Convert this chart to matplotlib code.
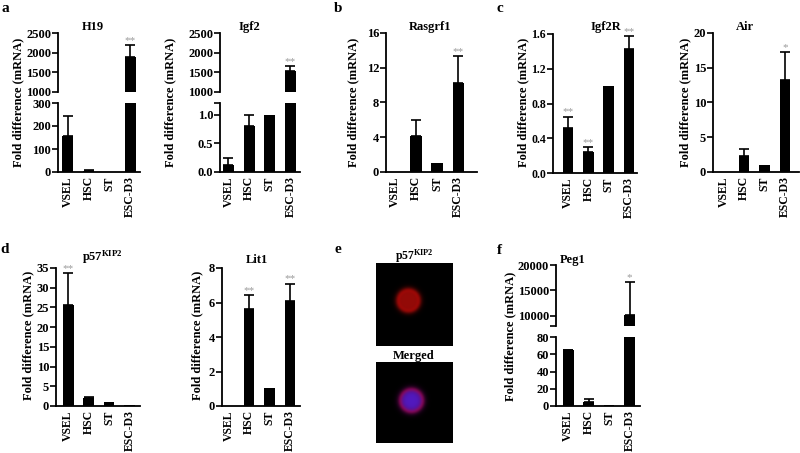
import numpy as np
import matplotlib
matplotlib.use('Agg')
import matplotlib.pyplot as plt
from matplotlib import font_manager as fm

_names = {f.name for f in fm.fontManager.ttflist}
SERIF = next((n for n in ['Liberation Serif', 'Times New Roman', 'Nimbus Roman',
                          'DejaVu Serif'] if n in _names), 'DejaVu Serif')

plt.rcParams['font.family'] = 'serif'
plt.rcParams['font.serif'] = [SERIF, 'DejaVu Serif']
plt.rcParams['font.weight'] = 'bold'
plt.rcParams['mathtext.fontset'] = 'custom'
plt.rcParams['mathtext.rm'] = SERIF + ':bold'
plt.rcParams['mathtext.it'] = SERIF + ':bold'
plt.rcParams['mathtext.bf'] = SERIF + ':bold'

# ---------------- data ----------------
groups = ['VSEL', 'HSC', 'ST', 'ESC-D3']

h19_vals = [155, 6, 1, 1900]
h19_err = [90, 2, 0, 300]
h19_sig = ['', '', '', '**']

igf2_vals = [0.13, 0.8, 1.0, 1540]
igf2_err = [0.12, 0.2, 0, 120]
igf2_sig = ['', '', '', '**']

rasgrf1_vals = [0, 4.1, 1.0, 10.2]
rasgrf1_err = [0, 1.9, 0, 3.1]
rasgrf1_sig = ['', '', '', '**']

igf2r_vals = [0.52, 0.24, 1.0, 1.43]
igf2r_err = [0.13, 0.06, 0, 0.15]
igf2r_sig = ['**', '**', '', '**']

air_vals = [0, 2.35, 1.0, 13.3]
air_err = [0, 1.0, 0, 4.0]
air_sig = ['', '', '', '*']

p57_vals = [25.5, 2.0, 1.0, 0.3]
p57_err = [8.3, 0.4, 0, 0]
p57_sig = ['**', '', '', '']

lit1_vals = [0, 5.6, 1.05, 6.1]
lit1_err = [0, 0.85, 0, 1.0]
lit1_sig = ['', '**', '', '**']

peg1_vals = [64.5, 4.6, 0.8, 10150]
peg1_err = [1.0, 3.2, 0, 6550]
peg1_sig = ['', '', '', '*']

W, H = 800, 453
fig = plt.figure(figsize=(W / 100, H / 100), dpi=100)
fig.patch.set_facecolor('white')

STAR_COLOR = '#9a9a9a'


def add_ax(l, r, t, b):
    return fig.add_axes([l / W, 1 - b / H, (r - l) / W, (b - t) / H])


def style(ax, xlim, ylim, yticks, ylabels=None, bottom=True, minor=None):
    ax.set_xlim(*xlim)
    ax.set_ylim(*ylim)
    for s in ['top', 'right']:
        ax.spines[s].set_visible(False)
    ax.spines['left'].set_linewidth(1.3)
    if bottom:
        ax.spines['bottom'].set_linewidth(1.3)
    else:
        ax.spines['bottom'].set_visible(False)
    ax.set_yticks(yticks)
    if ylabels is not None:
        ax.set_yticklabels(ylabels)
    if minor is not None:
        ax.set_yticks(minor, minor=True)
        ax.tick_params(axis='y', which='minor', length=4, width=1.2)
    ax.tick_params(axis='y', direction='out', length=4, width=1.2,
                   labelsize=9, pad=1)
    ax.tick_params(axis='x', length=0, labelsize=8.5, pad=3)
    if bottom:
        ax.set_xticks(range(len(groups)))
        ax.set_xticklabels(groups, rotation=90)
    else:
        ax.set_xticks([])
    ax.patch.set_alpha(0)


def draw(ax, vals, errs):
    x = np.arange(len(vals))
    ax.bar(x, vals, width=0.53, color='black', zorder=2)
    for i, (v, e) in enumerate(zip(vals, errs)):
        if e > 0:
            ax.errorbar([i], [v], yerr=[[0], [e]], fmt='none', ecolor='black',
                        elinewidth=1.2, capsize=3.5, capthick=1.2, zorder=1)


def stars(ax, vals, errs, sigs):
    for i, (v, e, s) in enumerate(zip(vals, errs, sigs)):
        if s:
            ax.annotate(s, xy=(i, v + e), xytext=(0, 0),
                        textcoords='offset points', ha='center', va='bottom',
                        color=STAR_COLOR, fontsize=8, fontweight='normal')


def broken(l, r, up_tb, lo_tb, xlim, up_lim, lo_lim, up_ticks, lo_ticks,
           vals, errs, sigs, lo_labels=None, up_minor=None, lo_minor=None):
    axu = add_ax(l, r, up_tb[0], up_tb[1])
    axl = add_ax(l, r, lo_tb[0], lo_tb[1])
    draw(axu, vals, errs)
    draw(axl, vals, errs)
    style(axu, xlim, up_lim, up_ticks, bottom=False, minor=up_minor)
    style(axl, xlim, lo_lim, lo_ticks, ylabels=lo_labels, minor=lo_minor)
    up_s = [s if v + e > lo_lim[1] else '' for v, e, s in zip(vals, errs, sigs)]
    lo_s = [s if v + e <= lo_lim[1] else '' for v, e, s in zip(vals, errs, sigs)]
    stars(axu, vals, errs, up_s)
    stars(axl, vals, errs, lo_s)
    return axu, axl


def single(l, r, t, b, xlim, ylim, ticks, vals, errs, sigs, labels=None,
           labelsize=9):
    ax = add_ax(l, r, t, b)
    draw(ax, vals, errs)
    style(ax, xlim, ylim, ticks, ylabels=labels)
    ax.tick_params(axis='y', labelsize=labelsize)
    stars(ax, vals, errs, sigs)
    return ax


# ---------------- panel a ----------------
broken(58, 140, (33, 92), (103, 172), (-0.48, 3.48), (1000, 2500), (0, 300),
       [1000, 1500, 2000, 2500], [0, 100, 200, 300], h19_vals, h19_err, h19_sig)
broken(220, 300, (33, 92), (103, 172), (-0.41, 3.46), (1000, 2500), (0, 1.2),
       [1000, 1500, 2000, 2500], [0, 0.5, 1.0], igf2_vals, igf2_err, igf2_sig,
       lo_labels=['0.0', '0.5', '1.0'], lo_minor=[1.2])

# ---------------- panel b ----------------
single(386, 477, 33, 172, (-0.43, 3.9), (0, 16), [0, 4, 8, 12, 16],
       rasgrf1_vals, rasgrf1_err, rasgrf1_sig)

# ---------------- panel c ----------------
single(553, 637, 34, 173, (-0.74, 3.39), (0, 1.6), [0, 0.4, 0.8, 1.2, 1.6],
       igf2r_vals, igf2r_err, igf2r_sig,
       labels=['0.0', '0.4', '0.8', '1.2', '1.6'], labelsize=8.5)
single(713, 799, 33, 172, (-0.51, 3.68), (0, 20), [0, 5, 10, 15, 20],
       air_vals, air_err, air_sig)

# ---------------- panel d ----------------
single(56, 140, 268, 406, (-0.6, 3.52), (0, 35), [0, 5, 10, 15, 20, 25, 30, 35],
       p57_vals, p57_err, p57_sig)
single(222, 300, 268, 406, (-0.32, 3.49), (0, 8), [0, 2, 4, 6, 8],
       lit1_vals, lit1_err, lit1_sig)

# ---------------- panel f ----------------
broken(556, 640, (265, 326), (337, 406), (-0.59, 3.51), (8000, 20000), (0, 80),
       [10000, 15000, 20000], [0, 20, 40, 60, 80], peg1_vals, peg1_err, peg1_sig,
       up_minor=[8000])


# ---------------- panel e (micrographs) ----------------
def blob_image(w, h, cx, cy, R, merged=False):
    yy, xx = np.mgrid[0:h, 0:w].astype(float)
    r = np.sqrt((xx - cx) ** 2 + (yy - cy) ** 2) / R
    inside = 1.0 / (1.0 + np.exp((r - 1.0) * 9.0))
    rim = np.exp(-((r - 0.85) / 0.18) ** 2) * inside
    img = np.zeros((h, w, 3))
    if not merged:
        img[..., 0] = 0.58 * inside + 0.12 * rim
        img[..., 1] = 0.04 * inside
        img[..., 2] = 0.03 * inside
    else:
        core = 1.0 / (1.0 + np.exp((r - 0.75) * 8.0))
        img[..., 0] = 0.32 * inside + 0.25 * rim
        img[..., 1] = 0.10 * core
        img[..., 2] = 0.55 * core + 0.2 * inside
    return np.clip(img, 0, 1)


ax_e1 = add_ax(376, 453, 263, 346)
ax_e1.imshow(blob_image(77, 83, 32, 37, 12.5), aspect='auto',
             interpolation='bilinear')
ax_e1.set_axis_off()
ax_e2 = add_ax(376, 453, 362, 443)
ax_e2.imshow(blob_image(77, 81, 35, 38, 13.5, merged=True), aspect='auto',
             interpolation='bilinear')
ax_e2.set_axis_off()


def ftext(x, y, s, **kw):
    fig.text(x / W, 1 - y / H, s, **kw)


# titles
ftext(93, 27, 'H19', ha='center', va='center', fontsize=9)
ftext(249, 27, 'Igf2', ha='center', va='center', fontsize=9)
ftext(430, 27, 'Rasgrf1', ha='center', va='center', fontsize=9)
ftext(606, 27, 'Igf2R', ha='center', va='center', fontsize=9)
ftext(745, 27, 'Air', ha='center', va='center', fontsize=9)
ftext(102, 257, r'p57$^{\rm KIP2}$', ha='center', va='center', fontsize=9)
ftext(257, 260, 'Lit1', ha='center', va='center', fontsize=9)
ftext(573, 260, 'Peg1', ha='center', va='center', fontsize=9)
ftext(414, 256, r'p57$^{\rm KIP2}$', ha='center', va='center', fontsize=8.5)
ftext(414, 356, 'Merged', ha='center', va='center', fontsize=9)

# y labels
ylab = 'Fold difference (mRNA)'
for x, y in [(18, 102), (170, 102), (353, 102), (523, 102), (685, 102),
             (28, 335), (197, 335), (510, 336)]:
    ftext(x, y, ylab, rotation=90, ha='center', va='center', fontsize=9)

# panel letters
for x, y, s in [(5, 9, 'a'), (338, 9, 'b'), (500, 9, 'c'),
                (5, 249, 'd'), (338, 249, 'e'), (499, 250, 'f')]:
    ftext(x, y, s, ha='center', va='center', fontsize=11)

fig.savefig('out.png', dpi=100, facecolor='white')
